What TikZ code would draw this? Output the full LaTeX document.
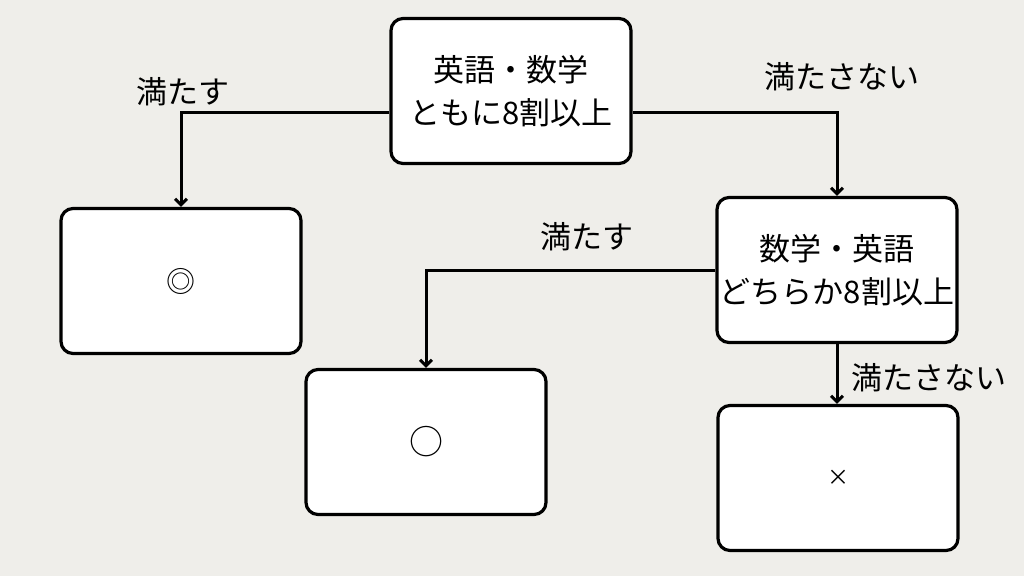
\documentclass[tikz,border=0pt]{standalone}
\usepackage{fontspec}
\setmainfont{Noto Sans CJK JP}
\usepackage{xcolor}
\usetikzlibrary{arrows.meta,positioning}
\definecolor{paper}{RGB}{239,238,234}

\begin{document}
\begin{tikzpicture}[
  x=1pt, y=-1pt,
  box/.style={draw, line width=3.2pt, rounded corners=12pt, fill=white, align=center, minimum width=240pt, minimum height=145pt, inner sep=0pt, font=\fontsize{31}{43}\selectfont},
  lbl/.style={inner sep=0pt, font=\fontsize{31}{43}\selectfont},
  flow/.style={->, line width=3pt},
  >={Straight Barb[length=6pt,width=12pt]}
]
  \useasboundingbox[fill=paper] (0,0) rectangle (1024,576);

  \node[box] (both) at (511,91) {英語・数学\\ともに8割以上};
  \node[box] (excellent) at (181,281) {\fontsize{29}{33}\selectfont ◎};
  \node[box] (either) at (837,270) {数学・英語\\どちらか8割以上};
  \node[box] (good) at (426,442) {\fontsize{34}{40}\selectfont ○};
  \node[box] (poor) at (838,478) {\fontsize{22}{26}\selectfont ×};

  \node[lbl] (yes1) at (183,92) {満たす};
  \node[lbl] (no1) at (842,77) {満たさない};
  \node[lbl] (yes2) at (587,237) {満たす};
  \node[lbl] (no2) at (929,378) {満たさない};

  \draw[flow] ([yshift=-21pt]both.west) -| (excellent.north);
  \draw[flow] ([yshift=-21pt]both.east) -| (either.north);
  \draw[flow] (either.west) -| (good.north);
  \draw[flow] (either.south) -- (either.south |- poor.north);
\end{tikzpicture}
\end{document}
